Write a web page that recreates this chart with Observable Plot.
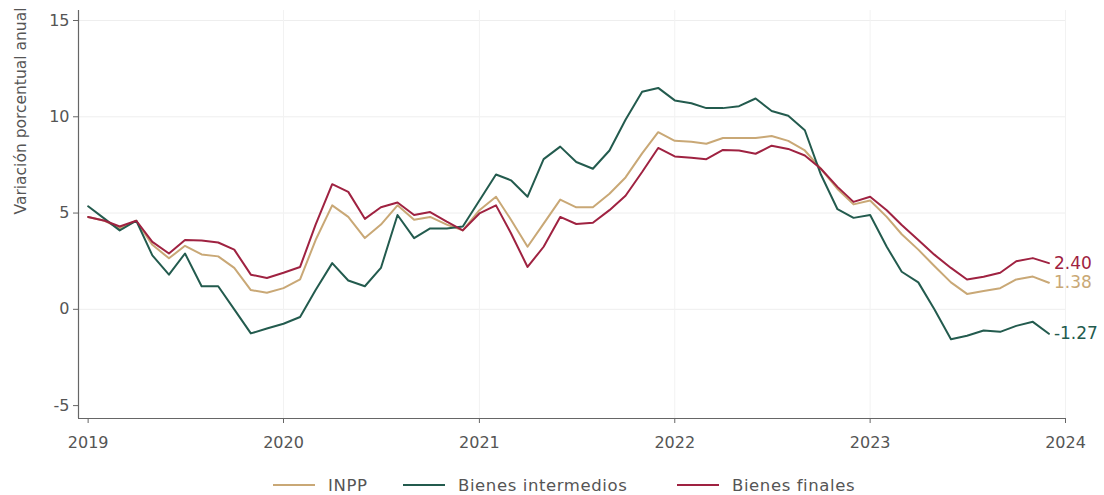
<!DOCTYPE html>
<html>
<head>
<meta charset="utf-8">
<script src="https://cdn.jsdelivr.net/npm/d3@7"></script>
<script src="https://cdn.jsdelivr.net/npm/@observablehq/plot@0.6"></script>
<style>
  html, body { margin: 0; padding: 0; background: #fff; }
  body { width: 1104px; height: 495px; overflow: hidden; font-family: "DejaVu Sans", sans-serif; }
  #legend { position: relative; width: 1104px; height: 35px; color: #555; font-size: 16.5px; letter-spacing: 0.6px; }
  .item { position: absolute; top: 9px; height: 32px; display: flex; align-items: center; }
  .sw { display: inline-block; width: 42px; height: 2px; margin-right: 13px; }
</style>
</head>
<body>
<div id="chart"></div>
<div id="legend"></div>
<script>
// Monthly annual % change, Jan 2019 – Dec 2023
const startYear = 2019;
const seriesNames = ["INPP", "Bienes intermedios", "Bienes finales"];
const seriesColors = ["#c9a876", "#235B4E", "#9F2241"];

const inpp = [
  4.8, 4.6, 4.2, 4.6, 3.35, 2.65, 3.3, 2.85, 2.75, 2.15, 1.0, 0.86,
  1.1, 1.55, 3.6, 5.4, 4.8, 3.7, 4.4, 5.4, 4.65, 4.8, 4.4, 4.1,
  5.15, 5.85, 4.65, 3.25, 4.45, 5.7, 5.3, 5.3, 6.0, 6.85, 8.1, 9.2,
  8.75, 8.7, 8.6, 8.9, 8.9, 8.9, 9.0, 8.75, 8.25, 7.3, 6.25, 5.45,
  5.65, 4.8, 3.9, 3.1, 2.25, 1.4, 0.8, 0.95, 1.1, 1.55, 1.7, 1.38
];
const intermedios = [
  5.35, 4.7, 4.1, 4.6, 2.8, 1.8, 2.9, 1.2, 1.2, 0.0, -1.25, -1.0,
  -0.75, -0.4, 1.0, 2.4, 1.5, 1.2, 2.15, 4.9, 3.7, 4.2, 4.2, 4.3,
  5.65, 7.0, 6.7, 5.85, 7.8, 8.45, 7.65, 7.3, 8.25, 9.85, 11.3, 11.5,
  10.85, 10.7, 10.45, 10.45, 10.55, 10.95, 10.3, 10.05, 9.3, 7.0, 5.2, 4.75,
  4.9, 3.25, 1.95, 1.4, 0.0, -1.55, -1.37, -1.1, -1.17, -0.86, -0.65, -1.27
];
const finales = [
  4.8, 4.6, 4.3, 4.6, 3.5, 2.9, 3.6, 3.57, 3.47, 3.1, 1.8, 1.63,
  1.9, 2.2, 4.4, 6.5, 6.1, 4.7, 5.3, 5.55, 4.9, 5.05, 4.55, 4.1,
  4.98, 5.4, 3.95, 2.2, 3.25, 4.8, 4.43, 4.5, 5.15, 5.9, 7.13, 8.38,
  7.94, 7.87, 7.8, 8.28, 8.25, 8.08, 8.5, 8.33, 7.99, 7.3, 6.36, 5.58,
  5.85, 5.15, 4.38, 3.6, 2.84, 2.15, 1.55, 1.69, 1.9, 2.5, 2.66, 2.40
];
const yTicks = [-5, 0, 5, 10, 15];
const xTickYears = [2019, 2020, 2021, 2022, 2023, 2024];
const yTitle = "Variación porcentual anual";

const seriesValues = [inpp, intermedios, finales];
const data = seriesValues.flatMap((vals, s) =>
  vals.map((v, i) => ({series: seriesNames[s], date: new Date(Date.UTC(startYear, i, 1)), value: v}))
);
const lastPoints = seriesNames.map((name, s) => {
  const vals = seriesValues[s];
  return {series: name, date: new Date(Date.UTC(startYear, vals.length - 1, 1)), value: vals[vals.length - 1]};
});
const xTicks = xTickYears.map(y => new Date(Date.UTC(y, 0, 1)));
const xMin = new Date(Date.UTC(2018, 11, 14));
const xMax = new Date(Date.UTC(2024, 0, 1));
const yMin = -5.67, yMax = 15.52;

const H = 460;
const chart = Plot.plot({
  width: 1104,
  height: H,
  marginLeft: 78,
  marginRight: 39,
  marginTop: 10,
  marginBottom: H - 418,
  style: {fontFamily: "DejaVu Sans, sans-serif", fontSize: "16px", color: "#555", background: "#fff"},
  x: {type: "utc", domain: [xMin, xMax]},
  y: {domain: [yMin, yMax]},
  color: {domain: seriesNames, range: seriesColors},
  marks: [
    Plot.ruleY(yTicks.filter(d => d > -5), {stroke: "#eee", strokeWidth: 1}),
    Plot.ruleX(xTicks.slice(1), {stroke: "#f2f2f2", strokeWidth: 1}),
    Plot.axisY({ticks: yTicks, tickSize: 5, tickPadding: 4, label: null, stroke: "#666", fontSize: 16,
      tickFormat: d => String(d)}),
    Plot.axisX({ticks: xTicks, tickSize: 5, tickPadding: 13, label: null, stroke: "#666", fontSize: 16,
      tickFormat: d => String(d.getUTCFullYear())}),
    Plot.ruleX([xMin], {stroke: "#666", strokeWidth: 1.2}),
    Plot.ruleY([yMin], {stroke: "#666", strokeWidth: 1.2}),
    Plot.text([yTitle], {frameAnchor: "left", dx: -57, rotate: -90, text: d => d, fill: "#555", fontSize: 15.5}),
    Plot.line(data, {x: "date", y: "value", z: "series", stroke: "series", strokeWidth: 2, curve: "linear"}),
    Plot.text(lastPoints, {x: "date", y: "value", fill: "series", text: d => d.value.toFixed(2),
      textAnchor: "start", dx: 5, fontSize: 17})
  ]
});
document.getElementById("chart").appendChild(chart);

// Legend below the chart
const legendPos = [273, 403, 677];
const legend = document.getElementById("legend");
seriesNames.forEach((name, i) => {
  const it = document.createElement("div");
  it.className = "item";
  it.style.left = legendPos[i] + "px";
  const sw = document.createElement("span");
  sw.className = "sw";
  sw.style.background = seriesColors[i];
  const t = document.createElement("span");
  t.textContent = name;
  it.appendChild(sw);
  it.appendChild(t);
  legend.appendChild(it);
});
</script>
</body>
</html>
